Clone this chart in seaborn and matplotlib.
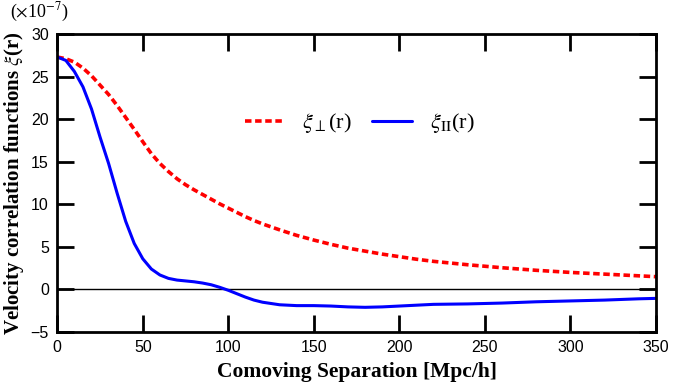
import matplotlib
matplotlib.use("Agg")
import matplotlib.pyplot as plt
import seaborn as sns
import pandas as pd

# ========== 1. Data (values in units of 1e-7) ==========
r = [0, 5, 10, 15, 20, 25, 30, 35, 40, 45, 50, 55, 60, 65, 70, 75, 80, 85, 90, 95,
     100, 105, 110, 115, 120, 130, 140, 150, 160, 170, 180, 190, 200, 210, 220,
     240, 260, 280, 300, 320, 340, 350]
xi_perp = [27.3, 27.1, 26.7, 26.0, 25.1, 24.0, 22.9, 21.6, 20.2, 18.8, 17.35, 15.95,
           14.8, 13.85, 13.0, 12.3, 11.7, 11.15, 10.6, 10.05, 9.55, 9.05, 8.55, 8.1,
           7.7, 7.0, 6.35, 5.8, 5.3, 4.85, 4.5, 4.15, 3.85, 3.55, 3.3, 2.9, 2.55,
           2.25, 2.0, 1.8, 1.6, 1.5]
xi_par = [27.3, 26.9, 25.6, 23.8, 21.2, 17.9, 14.8, 11.3, 8.0, 5.4, 3.6, 2.4, 1.7,
          1.3, 1.1, 1.0, 0.9, 0.75, 0.55, 0.25, -0.1, -0.5, -0.9, -1.25, -1.5, -1.8,
          -1.9, -1.9, -1.95, -2.05, -2.1, -2.05, -1.95, -1.85, -1.75, -1.7, -1.6,
          -1.45, -1.35, -1.25, -1.1, -1.05]
xticks = [0, 50, 100, 150, 200, 250, 300, 350]
yticks = [-5, 0, 5, 10, 15, 20, 25, 30]

df = pd.DataFrame({"r": r, "perp": xi_perp, "par": xi_par})

# ========== 2. Style ==========
sns.set_style("ticks")
plt.rcParams["font.family"] = ["Liberation Sans", "DejaVu Sans"]
plt.rcParams["mathtext.fontset"] = "stix"
plt.rcParams["text.color"] = "black"
plt.rcParams["axes.labelcolor"] = "black"

fig = plt.figure(figsize=(6.74, 3.89), dpi=100)
ax = fig.add_axes([0.085, 0.1465, 0.888, 0.766])

# ========== 3. Curves ==========
sns.lineplot(data=df, x="r", y="perp", ax=ax, color="#ff0000", linewidth=2.6,
             label=r"$\xi_{\perp}$(r)")
ax.lines[-1].set_dashes((1.8, 1.0))
sns.lineplot(data=df, x="r", y="par", ax=ax, color="#0000ff", linewidth=2.2,
             label=r"$\xi_{\mathrm{II}}$(r)")
ax.axhline(0, color="black", linewidth=1.0, zorder=1)

# ========== 4. Axes ==========
ax.set_xlim(0, 350)
ax.set_ylim(-5, 30)
ax.set_xticks(xticks)
ax.set_yticks(yticks)
ax.tick_params(direction="in", length=12, width=2.0, labelsize=11.5,
               top=True, right=True, pad=6, color="black", labelcolor="black")
for s in ax.spines.values():
    s.set_linewidth(2.0)
    s.set_color("black")
    s.set_visible(True)

ax.set_xlabel("Comoving Separation [Mpc/h]", fontsize=15.5, fontweight="bold",
              family="Liberation Serif", labelpad=5)
ax.set_ylabel(r"Velocity correlation functions $\xi$(r)", fontsize=15,
              fontweight="bold", family="Liberation Serif")
ax.yaxis.set_label_coords(-0.052, 0.5)
fig.text(0.015, 0.968, r"($\times$10$^{-7}$)", fontsize=13, family="Liberation Serif",
         va="center")

ax.legend(loc="center", bbox_to_anchor=(0.505, 0.70), ncol=2, frameon=False,
          prop={"family": "Liberation Serif", "size": 16}, handlelength=1.8,
          columnspacing=0.9, handletextpad=0.8)

plt.savefig("out.png", dpi=100)
plt.close()
